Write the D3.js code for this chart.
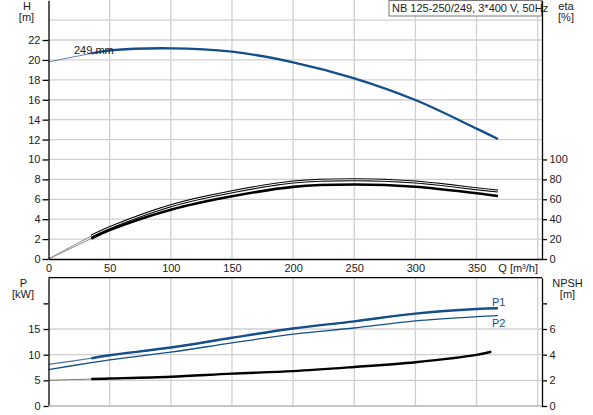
<!DOCTYPE html>
<html>
<head>
<meta charset="utf-8">
<script src="https://cdn.jsdelivr.net/npm/d3@7"></script>
<style>
body { margin: 0; background: #fff; }
svg text { font-family: Arial, "Liberation Sans", sans-serif; font-size: 11px; fill: #1a1a1a; }
.axis path, .axis line { stroke: #000; stroke-width: 1.3; }
.grid { stroke: #d0d0d0; stroke-width: 1.3; }
</style>
</head>
<body>
<svg id="chart"></svg>
<script>
// Values
var q_h = [0, 35, 50, 100, 150, 200, 250, 300, 350, 367.5];
var h_vals = [19.8, 20.65, 20.95, 21.17, 20.83, 19.76, 18.15, 15.97, 13.1, 12.05];

var q_eta = [0, 35, 50, 100, 150, 200, 250, 300, 350, 367.5];
var eta_1 = [0, 23, 31.5, 53.5, 67.5, 77.3, 79.6, 77.3, 70.6, 68.3];
var eta_2 = [0, 20.5, 29, 49.5, 63, 72.5, 74.8, 72.6, 66, 63.3];

var q_p = [0, 35, 50, 100, 150, 200, 250, 300, 350, 367.5];
var p_1 = [8.1, 9.3, 9.9, 11.4, 13.3, 15.1, 16.5, 18.0, 18.9, 19.05];
var p_2 = [7.1, 8.45, 9.0, 10.5, 12.3, 14.0, 15.2, 16.6, 17.4, 17.6];

var q_npsh = [0, 35, 50, 100, 150, 200, 250, 300, 350, 362];
var npsh = [2.0, 2.1, 2.14, 2.28, 2.52, 2.72, 3.04, 3.41, 3.98, 4.23];

var q_ticks = [0, 50, 100, 150, 200, 250, 300, 350];
var q_grid = [50, 100, 150, 200, 250, 300, 350, 400];
var h_ticks = [0, 2, 4, 6, 8, 10, 12, 14, 16, 18, 20, 22];
var h_grid = [2, 4, 6, 8, 10, 12, 14, 16, 18, 20, 22, 24];
var eta_ticks = [0, 20, 40, 60, 80, 100];
var p_ticks = [0, 5, 10, 15, 20];
var p_grid = [5, 10, 15];
var npsh_ticks = [0, 2, 4, 6, 8];

var title_txt = "NB 125-250/249, 3*400 V, 50Hz";
var curve_txt = "249 mm";

var W = 593, H = 415;
var blue = "#144f8c";

var svg = d3.select("#chart").attr("width", W).attr("height", H);

// Scales: x is shared by both panels
var x = d3.scaleLinear().domain([0, 403.5]).range([48.5, 542]);
var y_h = d3.scaleLinear().domain([0, 26]).range([259, 0.2]);
var y_eta = d3.scaleLinear().domain([0, 260]).range([259, 0.2]);
var y_p = d3.scaleLinear().domain([0, 25]).range([406, 277.7]);
var y_npsh = d3.scaleLinear().domain([0, 10]).range([406, 277.7]);

// Grid lines
var grid = svg.append("g");
grid.selectAll(".vt").data(q_grid).enter().append("line").attr("class", "grid")
  .attr("x1", x).attr("x2", x).attr("y1", 0).attr("y2", y_h(0));
grid.selectAll(".ht").data(h_grid).enter().append("line").attr("class", "grid")
  .attr("x1", x(0)).attr("x2", x.range()[1])
  .attr("y1", y_h).attr("y2", y_h);
grid.selectAll(".vb").data(q_grid).enter().append("line").attr("class", "grid")
  .attr("x1", x).attr("x2", x).attr("y1", y_p.range()[1]).attr("y2", y_p(0));
grid.selectAll(".hb").data(p_grid).enter().append("line").attr("class", "grid")
  .attr("x1", x(0)).attr("x2", x.range()[1])
  .attr("y1", y_p).attr("y2", y_p);

// Path helper, from = first point to include
function path(qs, vs, ys, from) {
  return d3.line()
    .x(function(d) { return x(d[0]); })
    .y(function(d) { return ys(d[1]); })
    .curve(d3.curveCatmullRom)(d3.zip(qs, vs).slice(from || 0));
}

function draw(d, color, width) {
  svg.append("path").attr("d", d).attr("fill", "none")
    .attr("stroke", color).attr("stroke-width", width)
    .attr("stroke-linecap", "butt");
}

// H curve (thin outside operating range)
draw(path(q_h, h_vals, y_h, 0), "#5a7eaa", 1);
draw(path(q_h, h_vals, y_h, 1), blue, 2.3);

// Efficiency curves
draw(path(q_eta, eta_1, y_eta, 0), "#888", 1);
draw(path(q_eta, eta_2, y_eta, 0), "#888", 1);
draw(path(q_eta, eta_1, y_eta, 1), "#000", 3);
draw(path(q_eta, eta_1, y_eta, 1), "#fff", 1);
draw(path(q_eta, eta_2, y_eta, 1), "#000", 2.6);

// Power curves
draw(path(q_p, p_1, y_p, 0), "#4a72a3", 1.2);
draw(path(q_p, p_1, y_p, 1), blue, 2.4);
draw(path(q_p, p_2, y_p, 0), blue, 1.3);

// NPSH
draw(path(q_npsh, npsh, y_npsh, 0), "#777", 1);
draw(path(q_npsh, npsh, y_npsh, 1), "#000", 2.4);

// Axes, top panel
svg.append("g").attr("class", "axis")
  .attr("transform", "translate(" + x(0) + ",0)")
  .call(d3.axisLeft(y_h).tickValues(h_ticks).tickSize(6).tickPadding(2).tickSizeOuter(0));
svg.append("g").attr("class", "axis")
  .attr("transform", "translate(" + x.range()[1] + ",0)")
  .call(d3.axisRight(y_eta).tickValues(eta_ticks).tickSize(5).tickPadding(2.5).tickSizeOuter(0));
svg.append("g").attr("class", "axis")
  .attr("transform", "translate(0," + y_h(0) + ")")
  .call(d3.axisBottom(x).tickValues(q_ticks).tickSize(0).tickPadding(5));

// Axes, bottom panel
svg.append("g").attr("class", "axis")
  .attr("transform", "translate(" + x(0) + ",0)")
  .call(d3.axisLeft(y_p).tickValues(p_ticks).tickSize(5).tickPadding(3).tickSizeOuter(0)
    .tickFormat(function(d) { return d < 20 ? d : ""; }));
svg.append("g").attr("class", "axis")
  .attr("transform", "translate(" + x.range()[1] + ",0)")
  .call(d3.axisRight(y_npsh).tickValues(npsh_ticks).tickSize(5).tickPadding(2.5).tickSizeOuter(0)
    .tickFormat(function(d) { return d < 8 ? d : ""; }));
svg.append("line").attr("x1", x(0)).attr("x2", x.range()[1])
  .attr("y1", y_p.range()[1]).attr("y2", y_p.range()[1])
  .attr("stroke", "#000").attr("stroke-width", 1.3);
svg.append("line").attr("x1", x(0)).attr("x2", x.range()[1])
  .attr("y1", y_p(0)).attr("y2", y_p(0))
  .attr("stroke", "#b5b5b5").attr("stroke-width", 1.5);

// Axis titles
var titles = [
  ["H", 27, 10], ["[m]", 26.5, 21],
  ["eta", 566, 10], ["[%]", 566, 21],
  ["P", 23.5, 287], ["[kW]", 23, 298],
  ["NPSH", 567.5, 287], ["[m]", 567.5, 298]
];
svg.selectAll(".ttl").data(titles).enter().append("text")
  .attr("text-anchor", "middle")
  .attr("x", function(d) { return d[1]; })
  .attr("y", function(d) { return d[2]; })
  .text(function(d) { return d[0]; });

svg.append("text").attr("x", 538).attr("y", 272).attr("text-anchor", "end").text("Q [m\u00b3/h]");

// Legend box
svg.append("rect").attr("x", 389).attr("y", 0.5).attr("width", 152.5).attr("height", 15.5)
  .attr("fill", "#fff").attr("stroke", "#777");
svg.append("text").attr("x", 392).attr("y", 12).text(title_txt);

// Curve labels
svg.append("text").attr("x", 74).attr("y", 53.5).text(curve_txt);
svg.append("text").attr("x", x(q_p[q_p.length - 1]) - 6).attr("y", 305.5)
  .style("fill", blue).text("P1");
svg.append("text").attr("x", x(q_p[q_p.length - 1]) - 6).attr("y", 326.5)
  .style("fill", blue).text("P2");
</script>
</body>
</html>
